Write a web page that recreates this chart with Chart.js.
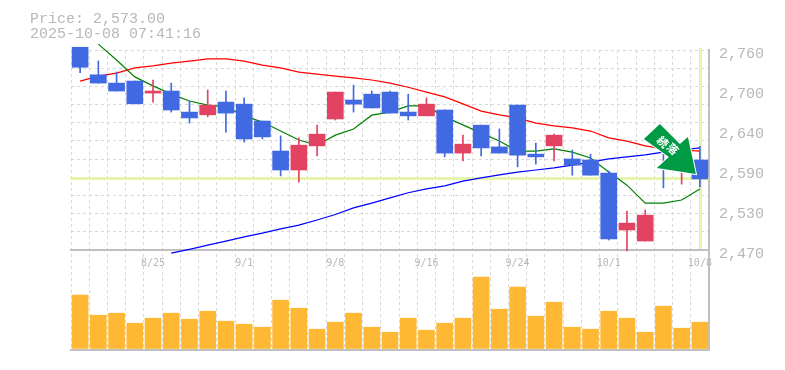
<!DOCTYPE html>
<html>
<head>
<meta charset="utf-8">
<style>
  html, body { margin: 0; padding: 0; background: #fff; }
  #wrap { width: 785px; height: 370px; }
</style>
<script src="https://cdn.jsdelivr.net/npm/chart.js@4"></script>
</head>
<body>
<div id="wrap"><canvas id="chart_price" width="785" height="370"></canvas></div>
<script>
//data
var days = ['8/19','8/20','8/21','8/22','8/25','8/26','8/27','8/28','8/29','9/1','9/2','9/3','9/4','9/5','9/8','9/9','9/10','9/11','9/12','9/16','9/17','9/18','9/19','9/22','9/24','9/25','9/26','9/29','9/30','10/1','10/2','10/3','10/6','10/7','10/8'];
var labeledDays = ['8/25','9/1','9/8','9/16','9/24','10/1','10/8'];

var opens  = [2764,2724,2712,2715,2697.5,2700.5,2670,2666,2684.5,2681.5,2657,2613.5,2586,2621,2660,2687.5,2696,2699,2670,2664.5,2673,2610.5,2651,2619.5,2680,2609,2621,2602,2600.5,2581.5,2499,2483,2634.5,2593,2600.5];
var closes = [2735,2712,2700.5,2682,2700.5,2673,2661.5,2680,2668.5,2631,2634,2586,2622,2638,2699,2681.5,2676,2668.5,2664.5,2681.5,2610.5,2623.5,2618,2610.5,2607.5,2605,2636.5,2593,2578.5,2486,2509,2520.5,2621.5,2607.5,2573];
var highs  = [2764,2744,2728,2715,2716.5,2712,2686,2702,2700.5,2690.5,2657,2635.5,2632.5,2651,2699,2709,2700.5,2700.5,2696,2690.5,2673,2636.5,2651,2645.5,2680,2625,2638,2615,2609,2584.5,2526.5,2528,2644.5,2615,2620.5];
var lows   = [2727,2712,2700.5,2682,2684.5,2670,2654,2663,2641,2626.5,2631,2577.5,2568.5,2606.5,2658.5,2670,2676,2668.5,2658.5,2664.5,2605,2599,2606.5,2610.5,2590.5,2594.5,2599,2578.5,2578.5,2484.5,2468.5,2483,2560,2565.5,2561.5];

var maShort = [null,2768.5,2745.5,2721,2708,2696,2686,2680,2677.5,2664.5,2655.5,2642.5,2629.5,2622,2636.5,2645.5,2665.5,2670,2679,2679,2663,2651.5,2639.5,2628,2613.5,2613.5,2616.5,2612,2603.5,2583,2564,2538,2538,2542.5,2558.5];
var maMid   = [2715,2722,2726.5,2734,2737,2741,2744,2747,2747,2744,2738,2734,2728,2725,2722,2719.5,2716.5,2712,2706,2699,2692,2682,2671.5,2666,2661.5,2654,2650,2647,2642.5,2632.5,2628,2621,2616.5,2615,2613.5];
var maLong  = [null,null,null,null,null,2465.5,2471,2477,2483,2489,2494.5,2500.5,2506,2513.5,2521.5,2531,2538,2545.5,2553,2558.5,2563,2570,2574.5,2579,2583,2586,2589,2593,2597.5,2602,2605,2608,2612,2615,2618];

var volumes = [53.3,33.3,35.3,25.3,30.3,35.3,29.3,37.3,27.3,24.3,21.3,48.3,40.3,19.3,26.3,35.3,21.3,16.3,30.3,18.3,25.3,30.3,71.3,39.3,61.3,32.3,46.3,21.3,19.3,37.3,30.3,16.3,42.3,20.3,26.3];

var priceTicks  = [2760,2702,2644,2586,2528,2470];
var priceLabels = ['2,760','2,700','2,640','2,590','2,530','2,470'];
var gridPrices  = [2760,2733.6,2707.3,2680.9,2654.5,2628.2,2601.8,2575.5,2549.1,2522.7,2496.4,2470];

var lastPrice = 2573;
var titleLines = ['Price: 2,573.00','2025-10-08 07:41:16'];
var arrowText = ['続','落'];

var upColor = '#E24362';
var downColor = '#4169E1';
var gridColor = '#d8d8d8';
var axisColor = '#c0c0c0';
var textColor = '#b8b8b8';
var monoFont = '"Liberation Mono", monospace';

function candleColors() {
    return closes.map((c, i) => c > opens[i] ? upColor : downColor);
}

//everything the library has no element for: title, last price guides, bottom line, signal arrow
var extras = {
    id: 'extras',
    beforeDatasetsDraw(chart) {
        var g = chart.ctx, a = chart.chartArea;
        var lastY = chart.scales.y.getPixelForValue(lastPrice);
        var lastX = chart.scales.x.getPixelForValue(days.length - 1);
        g.save();
        g.fillStyle = '#E6F5AC';
        g.fillRect(a.left - 1, Math.round(lastY) - 2, a.right - a.left + 1, 3);
        g.fillRect(Math.round(lastX) - 1, a.top - 2, 3, 201);
        g.fillStyle = axisColor;
        g.fillRect(a.left - 1, a.bottom - 1, a.right - a.left + 2, 2);
        g.restore();
    },
    afterDraw(chart) {
        var g = chart.ctx;
        g.save();
        g.fillStyle = textColor;
        g.font = '15px ' + monoFont;
        g.textBaseline = 'alphabetic';
        g.fillText(titleLines[0], 30, 23);
        g.fillText(titleLines[1], 30, 38);

        //arrow tip sits on the last candle
        var tipX = chart.scales.x.getPixelForValue(days.length - 1) - 4;
        var tipY = chart.scales.y.getPixelForValue(lastPrice) - 5;
        var shape = [[0,0],[-8,-37],[-16,-30],[-36,-50],[-52,-35],[-27,-17],[-39,-6]];
        g.beginPath();
        shape.forEach((p, i) => {
            if (i === 0) g.moveTo(tipX + p[0], tipY + p[1]);
            else g.lineTo(tipX + p[0], tipY + p[1]);
        });
        g.closePath();
        g.lineJoin = 'miter';
        g.lineWidth = 2;
        g.strokeStyle = '#ffffff';
        g.stroke();
        g.fillStyle = '#009944';
        g.fill();

        g.fillStyle = '#ffffff';
        g.font = 'bold 11px "Noto Sans CJK JP"';
        g.textAlign = 'center';
        g.textBaseline = 'middle';
        [[-33,-32],[-23,-25]].forEach((p, i) => {
            g.save();
            g.translate(tipX + p[0], tipY + p[1]);
            g.rotate(Math.PI / 4);
            g.fillText(arrowText[i], 0, 0);
            g.restore();
        });
        g.restore();
    }
};

var ctxPrice = document.getElementById('chart_price').getContext('2d');
var chartPrice = new Chart(ctxPrice, {
    data: {
        labels: days,
        datasets: [
            { type: 'bar', data: days.map((d, i) => [opens[i], closes[i]]), yAxisID: 'y', backgroundColor: candleColors(), barThickness: 16, order: 0, clip: false },
            { type: 'bar', data: days.map((d, i) => [lows[i], highs[i]]), yAxisID: 'y', backgroundColor: candleColors(), barThickness: 1, order: 1, clip: false },
            { type: 'line', data: maShort, yAxisID: 'y', borderColor: '#008000', borderWidth: 1.2, pointRadius: 0, tension: 0, order: 2, clip: false },
            { type: 'line', data: maMid, yAxisID: 'y', borderColor: '#ff0000', borderWidth: 1.25, pointRadius: 0, tension: 0, order: 2, clip: false },
            { type: 'line', data: maLong, yAxisID: 'y', borderColor: '#0000ff', borderWidth: 1.25, pointRadius: 0, tension: 0, order: 2, clip: false },
            { type: 'bar', data: volumes, yAxisID: 'yVol', backgroundColor: '#FFB833', barThickness: 16, order: 3 }
        ]
    },
    options: {
        responsive: false,
        animation: false,
        events: [],
        layout: { padding: { left: 71, top: 50, bottom: 20, right: 0 } },
        plugins: { legend: { display: false }, tooltip: { enabled: false } },
        datasets: { bar: { grouped: false, borderWidth: 0 } },
        scales: {
            x: {
                type: 'category',
                offset: true,
                position: { y: 2470 },
                border: { color: axisColor, width: 2, dash: [3, 3] },
                grid: { color: gridColor, offset: true, drawTicks: false, lineWidth: 1 },
                ticks: {
                    autoSkip: false, maxRotation: 0, minRotation: 0, padding: 7,
                    color: textColor, font: { family: '"DejaVu Sans Mono", monospace', size: 10 },
                    callback(v) { var d = this.getLabelForValue(v); return labeledDays.includes(d) ? d : ''; }
                }
            },
            y: {
                position: 'right',
                min: 2325, max: 2760,
                afterFit(s) { s.width = 76; },
                afterBuildTicks(s) { s.ticks = priceTicks.map(v => ({ value: v })); },
                border: { color: axisColor, width: 2 },
                grid: { display: false },
                ticks: {
                    autoSkip: false, padding: 2, labelOffset: 4,
                    color: textColor, font: { family: monoFont, size: 15 },
                    callback(v) { return priceLabels[priceTicks.indexOf(v)]; }
                }
            },
            yGrid: {
                position: 'left',
                min: 2325, max: 2760,
                afterFit(s) { s.width = 0; },
                afterBuildTicks(s) { s.ticks = gridPrices.map(v => ({ value: v })); },
                border: { display: false, dash: [3, 3] },
                grid: { color: gridColor, drawTicks: false },
                ticks: { display: false }
            },
            yVol: {
                display: false,
                min: -1.5, max: 298.5
            }
        }
    },
    plugins: [extras]
});
</script>
</body>
</html>
